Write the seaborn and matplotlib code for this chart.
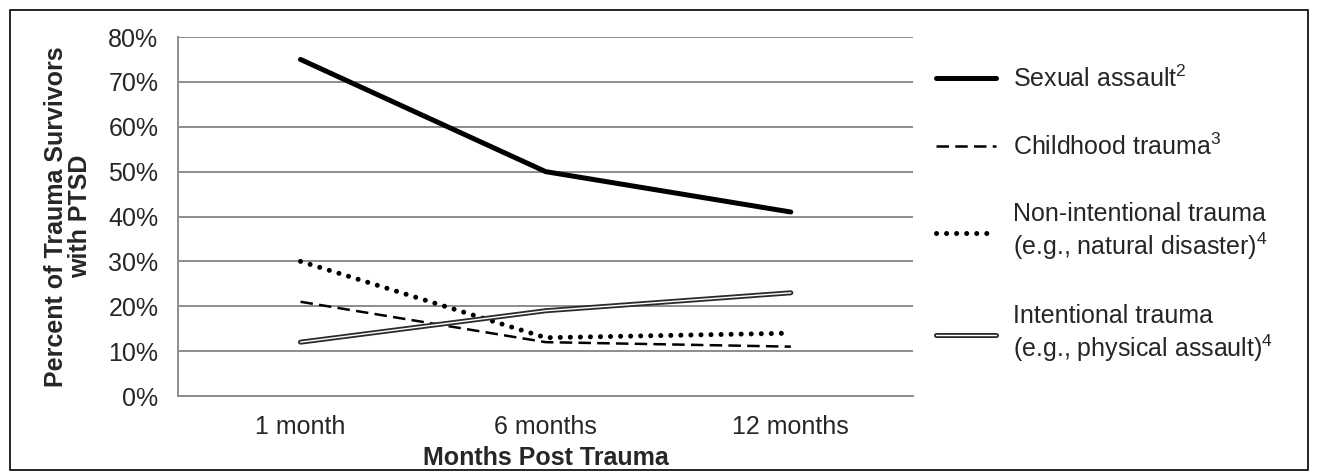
import numpy as np
import pandas as pd
import matplotlib
matplotlib.use("Agg")
import matplotlib.pyplot as plt
import matplotlib.patheffects as pe
from matplotlib.patches import Rectangle
import seaborn as sns

# ==============================
# Data
# ==============================
months = ["1 month", "6 months", "12 months"]
sexual_assault = [75, 50, 41]
childhood_trauma = [21, 12, 11]
non_intentional = [30, 13, 14]
intentional = [12, 19, 23]

labels = [
    "Sexual assault$^{2}$",
    "Childhood trauma$^{3}$",
    "Non-intentional trauma\n(e.g., natural disaster)$^{4}$",
    "Intentional trauma\n(e.g., physical assault)$^{4}$",
]
series = [sexual_assault, childhood_trauma, non_intentional, intentional]

# ==============================
# Style
# ==============================
sns.set_style("white")
plt.rcParams["font.family"] = ["Liberation Sans", "DejaVu Sans"]
plt.rcParams["mathtext.fontset"] = "custom"
plt.rcParams["mathtext.rm"] = "Liberation Sans"
plt.rcParams["mathtext.it"] = "Liberation Sans"

FS = 18

fig = plt.figure(figsize=(13.18, 4.72), dpi=100)
ax = fig.add_axes([0.135, 0.161, 0.558, 0.7606])

x = np.arange(len(months))
styles = [
    dict(color="black", linewidth=3.6, linestyle="-"),
    dict(color="black", linewidth=1.8, dashes=(5, 2.5)),
    dict(color="black", linewidth=3.6, dashes=(0.01, 2.0), dash_capstyle="round"),
    dict(color="white", linewidth=1.0, linestyle="-",
         path_effects=[pe.Stroke(linewidth=3.6, foreground="#2a2a2a"), pe.Normal()]),
]

for vals, lab, st in zip(series, labels, styles):
    df = pd.DataFrame({"x": x, "y": vals})
    sns.lineplot(data=df, x="x", y="y", ax=ax, label=lab, **st)

# ==============================
# Axes
# ==============================
grid_c = "#8c8c8c"
ax.set_xlim(-0.5, 2.5)
ax.set_ylim(0, 80)
ax.set_yticks(np.arange(0, 81, 10))
ax.set_yticklabels([f"{v}%" for v in range(0, 81, 10)], fontsize=FS)
ax.yaxis.grid(True, color=grid_c, linewidth=1.4)
ax.set_axisbelow(True)

ax.set_xticks([-0.5, 0.5, 1.5, 2.5])
ax.set_xticklabels([])
ax.set_xticks(x, minor=True)
ax.set_xticklabels(months, minor=True, fontsize=FS)
ax.tick_params(axis="x", which="major", length=7, width=1.4, color=grid_c, direction="out")
ax.tick_params(axis="x", which="minor", length=0, pad=14)
ax.tick_params(axis="y", length=6, width=1.4, color=grid_c, direction="out", pad=8)

for s in ["top", "right"]:
    ax.spines[s].set_visible(False)
for s in ["left", "bottom"]:
    ax.spines[s].set_color(grid_c)
    ax.spines[s].set_linewidth(1.4)

ax.set_xlabel("Months Post Trauma", fontsize=FS, fontweight="bold", labelpad=5)
ax.set_ylabel("Percent of Trauma Survivors\nwith PTSD", fontsize=FS,
              fontweight="bold", labelpad=12, linespacing=1.0)

leg = ax.legend(loc="upper left", bbox_to_anchor=(0.693, 0.909),
                bbox_transform=fig.transFigure, frameon=False, fontsize=FS,
                handlelength=2.4, handletextpad=0.7, labelspacing=1.67)

fig.add_artist(Rectangle((0.0076, 0.004), 0.985, 0.975, transform=fig.transFigure,
                         fill=False, edgecolor="black", linewidth=1.2))

plt.savefig("out.png", dpi=100)
plt.close()
